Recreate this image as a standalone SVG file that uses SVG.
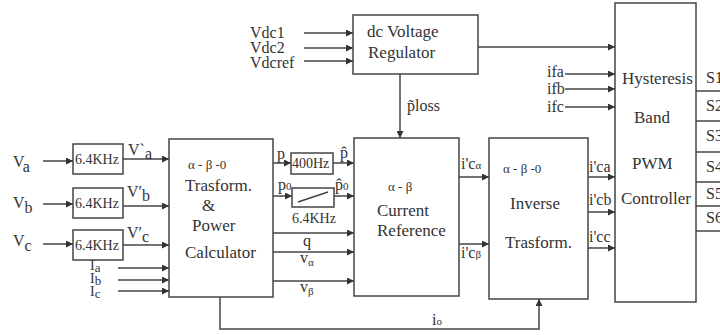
<svg xmlns="http://www.w3.org/2000/svg" width="720" height="335" viewBox="0 0 720 335" font-family="'Liberation Serif', 'Times New Roman', 'DejaVu Serif', serif">
<defs>
<marker id="ah" viewBox="0 0 10 10" refX="10" refY="5" markerWidth="8" markerHeight="7" markerUnits="userSpaceOnUse" orient="auto">
<path d="M0,0 L10,5 L0,10 z" fill="#333"/>
</marker>
</defs>
<style>
.box{fill:#fff;stroke:#444;stroke-width:1.5}
.ln{fill:none;stroke:#444;stroke-width:1.5}
.ar{fill:none;stroke:#444;stroke-width:1.5;marker-end:url(#ah)}
text{font-family:'Liberation Serif','Times New Roman','DejaVu Serif',serif;fill:#333}
.t16{font-size:16px}
.t17{font-size:17px}
.t14{font-size:14px}
.t13{font-size:13px}
</style>
<rect width="720" height="335" fill="#fff"/>

<g id="connectors">
<line class="ar" x1="43" y1="161" x2="73" y2="161"/>
<line class="ar" x1="43" y1="204" x2="73" y2="204"/>
<line class="ar" x1="43" y1="244" x2="73" y2="244"/>
<line class="ar" x1="123" y1="159" x2="169" y2="159"/>
<line class="ar" x1="123" y1="206" x2="169" y2="206"/>
<line class="ar" x1="123" y1="245" x2="169" y2="245"/>
<line class="ar" x1="118" y1="268" x2="169" y2="268"/>
<line class="ar" x1="118" y1="280" x2="169" y2="280"/>
<line class="ar" x1="118" y1="291" x2="169" y2="291"/>
<line class="ar" x1="304" y1="33" x2="353" y2="33"/>
<line class="ar" x1="304" y1="48" x2="353" y2="48"/>
<line class="ar" x1="304" y1="61" x2="353" y2="61"/>
<line class="ar" x1="478" y1="47" x2="615" y2="47"/>
<line class="ar" x1="400" y1="74" x2="400" y2="138"/>
<line class="ar" x1="565" y1="74" x2="615" y2="74"/>
<line class="ar" x1="565" y1="89" x2="615" y2="89"/>
<line class="ar" x1="565" y1="107" x2="615" y2="107"/>
<line class="ar" x1="273" y1="163" x2="291" y2="163"/>
<line class="ar" x1="333" y1="163" x2="354" y2="163"/>
<line class="ar" x1="273" y1="196" x2="292" y2="196"/>
<line class="ar" x1="334" y1="196" x2="354" y2="196"/>
<line class="ar" x1="273" y1="233" x2="354" y2="233"/>
<line class="ar" x1="273" y1="252" x2="354" y2="252"/>
<line class="ar" x1="273" y1="281" x2="354" y2="281"/>
<line class="ar" x1="459" y1="177" x2="489" y2="177"/>
<line class="ar" x1="459" y1="244" x2="489" y2="244"/>
<line class="ar" x1="588" y1="177" x2="615" y2="177"/>
<line class="ar" x1="588" y1="212" x2="615" y2="212"/>
<line class="ar" x1="588" y1="248" x2="615" y2="248"/>
<polyline class="ar" points="220,297 220,329 539,329 539,299"/>
<line class="ln" x1="696" y1="91" x2="720" y2="91"/>
<line class="ln" x1="696" y1="121" x2="720" y2="121"/>
<line class="ln" x1="696" y1="152" x2="720" y2="152"/>
<line class="ln" x1="696" y1="182" x2="720" y2="182"/>
<line class="ln" x1="696" y1="206" x2="720" y2="206"/>
<line class="ln" x1="696" y1="231" x2="720" y2="231"/>
</g>

<g id="filter-a"><rect class="box" x="73" y="144" width="50" height="30"/><text class="t14" x="75" y="164">6.4KHz</text></g>
<g id="filter-b"><rect class="box" x="73" y="188" width="50" height="30"/><text class="t14" x="75" y="208">6.4KHz</text></g>
<g id="filter-c"><rect class="box" x="73" y="230" width="50" height="30"/><text class="t14" x="75" y="250">6.4KHz</text></g>

<g id="power-calc">
<rect class="box" x="169" y="139" width="104" height="158"/>
<text class="t13" x="188" y="169">α - β -0</text>
<text class="t17" x="185" y="191">Trasform.</text>
<text class="t17" x="202" y="211">&amp;</text>
<text class="t17" x="192" y="231">Power</text>
<text class="t17" x="185" y="258">Calculator</text>
</g>

<g id="lpf-400">
<rect class="box" x="291" y="153" width="42" height="21"/>
<text class="t14" x="292" y="168">400Hz</text>
</g>
<g id="lpf-64">
<rect class="box" x="292" y="188" width="42" height="19"/>
<line class="ln" x1="298" y1="202" x2="328" y2="192" stroke-width="1.2"/>
<text class="t14" x="292" y="223">6.4KHz</text>
</g>

<g id="current-ref">
<rect class="box" x="354" y="138" width="105" height="158"/>
<text class="t13" x="388" y="191">α - β</text>
<text class="t17" x="377" y="216">Current</text>
<text class="t17" x="377" y="236">Reference</text>
</g>

<g id="dc-reg">
<rect class="box" x="353" y="15" width="125" height="59"/>
<text class="t17" x="367" y="37">dc Voltage</text>
<text class="t17" x="368" y="58">Regulator</text>
</g>

<g id="inverse">
<rect class="box" x="489" y="138" width="99" height="161"/>
<text class="t13" x="503" y="173">α - β -0</text>
<text class="t17" x="510" y="209">Inverse</text>
<text class="t17" x="505" y="248">Trasform.</text>
</g>

<g id="pwm">
<rect class="box" x="615" y="3" width="81" height="299"/>
<text class="t17" x="622" y="84">Hysteresis</text>
<text class="t17" x="634" y="123">Band</text>
<text class="t17" x="632" y="169">PWM</text>
<text class="t17" x="621" y="204">Controller</text>
</g>

<g id="labels">
<text class="t16" x="13" y="167">V<tspan dy="5">a</tspan></text>
<text class="t16" x="13" y="208">V<tspan dy="5">b</tspan></text>
<text class="t16" x="13" y="246">V<tspan dy="5">c</tspan></text>
<text class="t16" x="128" y="155">V`<tspan dy="4">a</tspan></text>
<text class="t16" x="127" y="197">V′<tspan dy="4">b</tspan></text>
<text class="t16" x="127" y="238">V′<tspan dy="4">c</tspan></text>
<text class="t14" x="90" y="270">I<tspan font-size="13" dy="2">a</tspan></text>
<text class="t14" x="90" y="283">I<tspan font-size="13" dy="2">b</tspan></text>
<text class="t14" x="90" y="296">I<tspan font-size="13" dy="2">c</tspan></text>
<text class="t16" x="250" y="38">Vdc1</text>
<text class="t16" x="250" y="53">Vdc2</text>
<text class="t16" x="250" y="68">Vdcref</text>
<text class="t16" x="407" y="111">p̃loss</text>
<text class="t16" x="547" y="77">ifa</text>
<text class="t16" x="547" y="94">ifb</text>
<text class="t16" x="547" y="112">ifc</text>
<text class="t16" x="277" y="159">p</text>
<text class="t16" x="340" y="158">p̂</text>
<text class="t16" x="278" y="190">p<tspan font-size="11">0</tspan></text>
<text class="t16" x="335" y="190">p̂<tspan font-size="11">0</tspan></text>
<text class="t16" x="303" y="246">q</text>
<text class="t16" x="300" y="263">v<tspan font-size="11" dy="3">α</tspan></text>
<text class="t16" x="300" y="292">v<tspan font-size="11" dy="3">β</tspan></text>
<text class="t16" x="461" y="169">i'c<tspan font-size="11">α</tspan></text>
<text class="t16" x="461" y="258">i'c<tspan font-size="11">β</tspan></text>
<text class="t16" x="589" y="172">i'ca</text>
<text class="t16" x="589" y="205">i'cb</text>
<text class="t16" x="589" y="242">i'cc</text>
<text class="t16" x="432" y="325">i<tspan font-size="11">o</tspan></text>
<text class="t16" x="706" y="83">S1</text>
<text class="t16" x="706" y="111">S2</text>
<text class="t16" x="706" y="141">S3</text>
<text class="t16" x="706" y="172">S4</text>
<text class="t16" x="706" y="199">S5</text>
<text class="t16" x="706" y="223">S6</text>
</g>
</svg>
